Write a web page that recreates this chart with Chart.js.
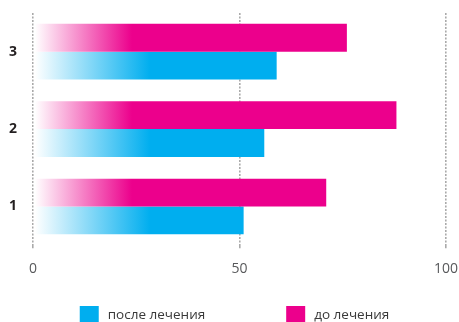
<!DOCTYPE html>
<html lang="ru">
<head>
    <meta charset="UTF-8">
    <title>Лечение</title>
    <script src="https://cdn.jsdelivr.net/npm/chart.js"></script>
    <style>
        html, body { margin: 0; padding: 0; background: #fff; }
        #wrap { width: 459px; height: 322px; }
    </style>
</head>
<body>
<div id="wrap"><canvas id="chart"></canvas></div>

<script>
    // данные с картинки
    const categories = ['1', '2', '3'];
    const afterValues = [51, 56, 59];    // после лечения
    const beforeValues = [71, 88, 76];   // до лечения
    const xTicks = [0, 50, 100];

    const BLUE = '#00aeef';
    const PINK = '#ec008c';

    // градиент от белого к цвету, в пикселях от левого края
    function fade(color, fullAt) {
        return function (ctx) {
            const chart = ctx.chart;
            const area = chart.chartArea;
            if (!area) return color;
            const x0 = area.left + 2;
            const g = chart.ctx.createLinearGradient(x0, 0, x0 + fullAt, 0);
            g.addColorStop(0, 'rgba(255,255,255,1)');
            g.addColorStop(1, color);
            return g;
        };
    }

    // легенда снизу, свой рисунок (большой промежуток между пунктами)
    const bottomLegend = {
        id: 'bottomLegend',
        afterDraw(chart) {
            const ctx = chart.ctx;
            const items = [
                { text: 'после лечения', color: BLUE },
                { text: 'до лечения', color: PINK }
            ];
            const boxW = 19, boxH = 16, gap = 9, between = 81;
            ctx.save();
            ctx.font = "13.5px 'Open Sans', sans-serif";
            ctx.textBaseline = 'middle';
            let total = 0;
            items.forEach((it, i) => {
                it.w = boxW + gap + ctx.measureText(it.text).width;
                total += it.w + (i ? between : 0);
            });
            let x = (chart.chartArea.left + chart.chartArea.right) / 2 - 5 - total / 2;
            const y = chart.height - boxH;
            items.forEach(it => {
                ctx.fillStyle = it.color;
                ctx.fillRect(x, y, boxW, boxH);
                ctx.fillStyle = '#3a3a3a';
                ctx.fillText(it.text, x + boxW + gap, y + boxH / 2 + 1);
                x += it.w + between;
            });
            ctx.restore();
        }
    };

    Chart.defaults.font.family = "'Open Sans', sans-serif";

    new Chart(document.getElementById('chart'), {
        type: 'bar',
        data: {
            labels: categories,
            datasets: [
                {
                    label: 'до лечения',
                    data: beforeValues,
                    backgroundColor: fade(PINK, 97)
                },
                {
                    label: 'после лечения',
                    data: afterValues,
                    backgroundColor: fade(BLUE, 115)
                }
            ]
        },
        options: {
            indexAxis: 'y',
            responsive: true,
            maintainAspectRatio: false,
            animation: false,
            datasets: {
                bar: { categoryPercentage: 0.72, barPercentage: 1.0 }
            },
            layout: { padding: { top: 13, right: 13, left: 0, bottom: 33 } },
            scales: {
                x: {
                    min: 0,
                    max: 100,
                    afterBuildTicks: axis => { axis.ticks = xTicks.map(v => ({ value: v })); },
                    afterFit: scale => { scale.paddingLeft = 0; scale.paddingRight = 0; },
                    grid: { color: '#aaaaaa', lineWidth: 1.6, tickLength: 3 },
                    border: { display: false, dash: [2, 1.5] },
                    ticks: { color: '#58595b', font: { size: 14 }, padding: 12 }
                },
                y: {
                    reverse: true,
                    afterFit: scale => { scale.width = 33; scale.paddingTop = 0; scale.paddingBottom = 0; },
                    grid: { display: false, drawTicks: false },
                    border: { display: false },
                    ticks: { color: '#231f20', font: { size: 14, weight: 'bold' }, padding: 16 }
                }
            },
            plugins: {
                tooltip: { enabled: false },
                legend: { display: false }
            }
        },
        plugins: [bottomLegend]
    });
</script>
</body>
</html>
